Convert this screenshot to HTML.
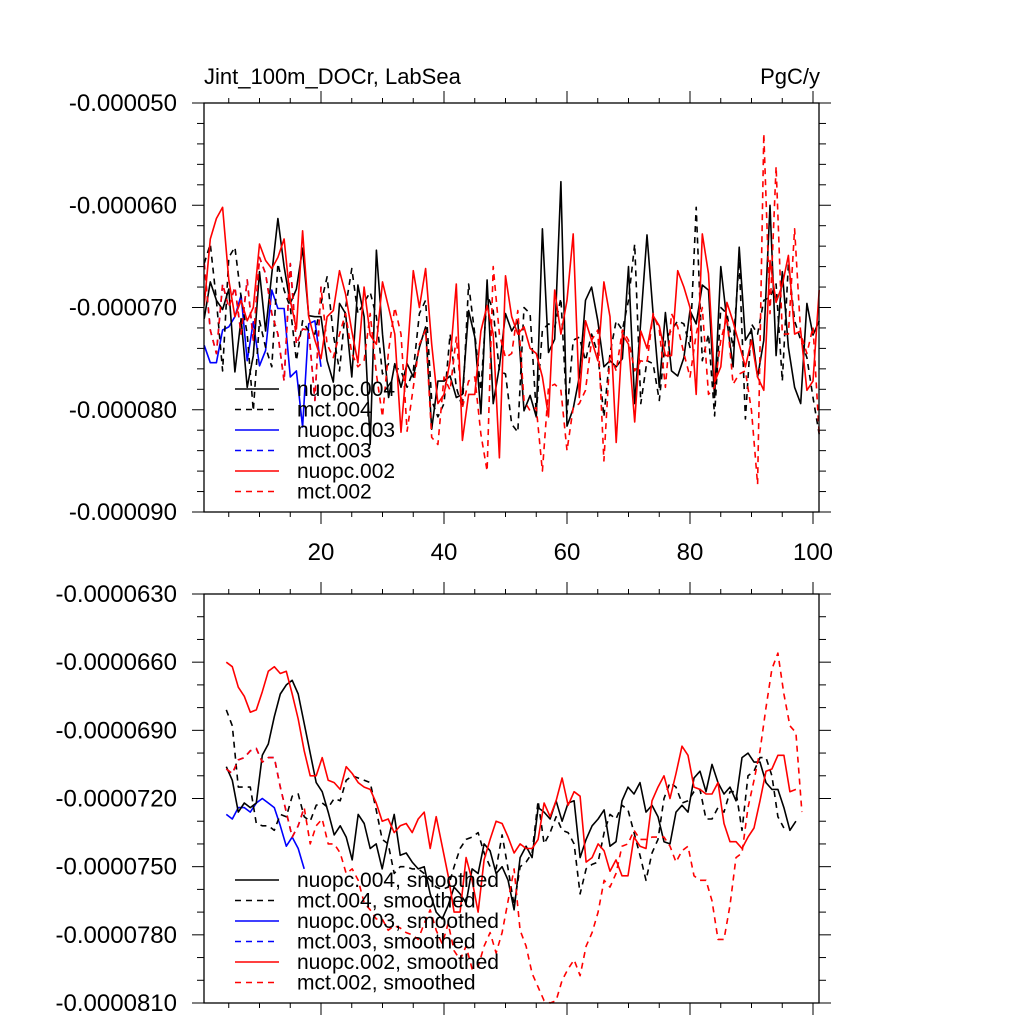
<!DOCTYPE html>
<html><head><meta charset="utf-8"><style>
html,body{margin:0;padding:0;background:#fff;}
svg{display:block;font-family:"Liberation Sans",sans-serif;}
</style></head><body>
<svg id="chart" width="1024" height="1024" viewBox="0 0 1024 1024" xmlns="http://www.w3.org/2000/svg">
<rect x="0" y="0" width="1024" height="1024" fill="#fff"/>
<text x="204" y="84" font-size="22">Jint_100m_DOCr, LabSea</text>
<text x="820" y="84" font-size="22" text-anchor="end">PgC/y</text>
<g id="top"></g><g id="bot"></g>
</svg>
<script>
// values in units of 1e-6 PgC/y
const topN004=[-71.1,-67.5,-69.3,-70.2,-68.2,-76.3,-71.1,-77.8,-74.7,-66.5,-72.3,-66.7,-61.3,-66.0,-69.6,-68.2,-64.2,-70.8,-70.9,-70.9,-75.2,-77.3,-69.6,-70.6,-76.8,-67.8,-70.9,-83.4,-64.4,-72.6,-78.8,-75.5,-77.8,-75.5,-76.8,-73.9,-71.9,-81.9,-77.2,-77.2,-76.7,-78.8,-78.5,-70.3,-72.9,-80.4,-67.3,-79.4,-75.8,-70.6,-72.3,
-71.3,-80.1,-78.6,-80.7,-62.3,-74.4,-73.1,-57.7,-81.6,-79.9,-76.8,-69.3,-68.0,-71.3,-75.8,-75.2,-75.8,-75.0,-66.0,-79.4,-71.3,-62.9,-70.6,-77.8,-70.5,-76.2,-76.7,-74.9,-70.3,-71.6,-67.8,-68.3,-78.8,-66.0,-71.3,-75.8,-64.1,-73.2,-72.2,-76.8,-73.2,-60.0,-74.7,-66.5,-73.9,-77.8,-79.4,-69.6,-72.7,-71.3];
const topM004=[-65.7,-63.8,-69.3,-76.2,-65.1,-64.1,-69.0,-72.6,-80.1,-71.3,-73.9,-75.8,-65.7,-68.3,-70.0,-75.2,-71.3,-72.3,-72.6,-69.6,-67.0,-72.6,-76.2,-70.0,-66.2,-70.6,-69.5,-68.5,-70.9,-76.5,-75.5,-75.8,-76.2,-77.8,-76.2,-70.6,-69.3,-79.1,-80.7,-79.4,-72.6,-77.8,-79.8,-67.7,-72.6,-78.1,-68.7,-70.3,-76.2,-76.5,-81.4,
-82.2,-70.0,-70.6,-80.4,-72.2,-71.6,-71.9,-69.1,-80.4,-73.2,-72.9,-75.2,-72.6,-74.5,-80.7,-74.5,-71.3,-72.2,-69.3,-63.8,-79.4,-75.2,-75.5,-79.1,-73.2,-72.2,-71.3,-71.6,-73.9,-60.2,-75.2,-72.6,-80.6,-70.0,-70.6,-73.9,-65.4,-80.9,-71.6,-72.6,-69.3,-69.0,-67.7,-77.2,-65.7,-71.3,-73.2,-74.9,-78.8,-82.4];
const topN003=[-73.7,-75.4,-75.4,-72.2,-71.9,-70.9,-68.8,-75.2,-71.4,-75.7,-74.2,-68.3,-70.1,-70.1,-76.8,-76.2,-81.7,-71.6,-71.3,-75.8];
const topM003=[-65.7,-72.2,-74.5,-67.7,-70.0,-68.0,-72.6,-67.3,-73.2,-65.1,-66.7,-70.6,-72.6,-77.2,-65.7,-73.6,-72.1,-72.2,-79.1,-68.0];
const topN002=[-69.8,-63.3,-61.3,-60.2,-67.3,-70.9,-69.3,-71.3,-70.0,-63.8,-65.4,-66.2,-65.1,-63.3,-69.3,-72.1,-62.5,-70.9,-73.2,-75.0,-70.9,-70.3,-66.4,-68.7,-72.3,-75.4,-68.0,-72.7,-73.6,-67.5,-70.0,-72.6,-82.2,-75.0,-66.4,-70.0,-66.2,-73.6,-79.4,-78.5,-75.2,-67.7,-83.0,-78.5,-78.5,-72.3,-69.8,-72.6,-84.7,-66.9,-70.9,
-72.6,-71.9,-74.0,-74.5,-76.8,-80.7,-68.3,-72.6,-69.3,-62.8,-78.8,-71.3,-73.2,-75.2,-67.5,-70.9,-83.2,-72.6,-73.6,-81.2,-72.3,-74.0,-70.8,-71.8,-74.7,-74.7,-66.4,-68.0,-70.0,-78.5,-62.8,-66.7,-77.3,-75.8,-69.5,-71.4,-73.6,-75.8,-73.2,-76.8,-78.1,-65.4,-69.5,-67.8,-64.9,-72.6,-72.3,-78.1,-77.2,-68.3];
const topM002=[-65.7,-72.2,-74.5,-67.7,-70.0,-68.0,-72.6,-67.3,-73.2,-65.1,-66.7,-70.6,-72.6,-77.2,-65.7,-73.6,-72.1,-72.2,-79.1,-68.0,-73.6,-74.9,-72.6,-70.6,-74.5,-75.8,-75.2,-70.6,-76.5,-80.7,-74.2,-70.0,-72.6,-82.1,-77.8,-73.6,-72.2,-82.7,-83.4,-76.8,-78.1,-72.9,-79.8,-77.2,-76.8,-82.4,-86.0,-66.0,-72.6,-74.9,-74.5,
-70.3,-79.1,-80.1,-79.8,-86.0,-77.8,-77.5,-78.1,-84.0,-79.8,-79.4,-78.1,-73.2,-72.2,-85.0,-74.5,-76.2,-72.2,-73.2,-76.2,-75.2,-75.4,-70.6,-72.2,-77.8,-70.6,-71.9,-74.5,-76.8,-72.6,-70.0,-78.5,-77.8,-73.2,-70.9,-77.5,-76.5,-76.2,-80.1,-87.3,-53.0,-70.6,-56.2,-72.6,-72.6,-62.3,-72.6,-74.5,-71.9,-82.4];
const botN004=[-70.6,-71.2,-72.6,-72.2,-72.4,-72.2,-70.1,-69.6,-68.4,-67.4,-67.0,-66.8,-67.4,-68.7,-70.0,-71.3,-71.7,-72.6,-73.6,-73.2,-73.7,-74.7,-72.7,-73.1,-74.2,-74.0,-75.1,-73.8,-72.7,-74.5,-74.4,-74.8,-75.1,-75.0,-76.2,-77.0,-77.3,-76.7,-75.9,-76.2,-76.6,-75.1,-75.3,-74.0,-74.3,-75.3,-75.0,-75.6,-76.9,-74.6,-74.1,-74.6,-72.4,-72.6,-72.9,-72.1,-73.0,-72.2,-72.1,-74.6,-73.8,-73.2,-72.9,-72.5,-74.1,-73.9,-72.1,-71.5,-71.8,-71.3,-72.6,-72.3,-72.8,-73.9,-74.0,-72.6,-72.3,-72.6,-71.1,-70.8,-71.7,-70.5,-71.3,-71.8,-71.5,-72.1,-70.2,-70.0,-70.4,-70.4,-71.3,-71.6,-71.6,-72.4,-73.4,-73.0];
const botM004=[-68.1,-68.8,-71.5,-71.5,-71.5,-73.1,-73.2,-73.2,-73.4,-72.7,-72.8,-71.9,-71.8,-72.8,-73.0,-72.3,-72.2,-72.4,-72.0,-72.1,-71.2,-71.0,-71.1,-71.2,-71.3,-72.5,-73.8,-74.0,-75.3,-75.0,-75.0,-75.1,-75.1,-75.3,-75.6,-75.9,-76.0,-75.9,-75.0,-74.2,-73.8,-73.7,-73.5,-74.4,-75.0,-75.1,-73.6,-75.1,-76.7,-75.0,-74.8,-74.4,-72.1,-74.0,-73.5,-72.8,-73.4,-73.5,-74.0,-76.2,-75.1,-74.9,-74.8,-73.5,-72.7,-72.9,-72.3,-72.5,-73.5,-74.5,-75.6,-74.4,-73.8,-72.0,-71.3,-71.5,-72.2,-72.1,-71.7,-71.6,-72.9,-72.9,-72.4,-72.6,-71.7,-71.7,-73.4,-71.0,-70.8,-70.2,-70.2,-71.0,-72.8,-73.3];
const botN003=[-72.7,-72.9,-72.4,-72.4,-72.6,-72.2,-72.0,-72.2,-72.4,-73.2,-74.1,-73.7,-74.2,-75.1];
const botM003=[-70.7,-70.9,-70.3,-70.2,-69.9,-69.8,-70.4,-70.2,-70.2,-71.5,-72.6,-73.7,-73.2,-72.4];
const botN002=[-66.0,-66.2,-67.1,-67.5,-68.2,-68.1,-67.3,-66.4,-66.2,-66.5,-66.4,-67.4,-68.5,-69.9,-71.0,-71.0,-70.2,-71.2,-71.3,-71.6,-70.6,-70.9,-71.3,-71.5,-71.6,-72.2,-73.0,-72.9,-73.5,-73.2,-73.1,-73.5,-72.9,-72.6,-74.2,-72.8,-74.1,-75.4,-77.0,-77.0,-74.6,-75.6,-77.0,-74.7,-73.8,-73.0,-73.1,-73.7,-74.4,-74.0,-74.2,-74.2,-73.8,-72.2,-72.8,-72.1,-71.1,-72.3,-71.7,-71.9,-74.8,-74.6,-74.0,-74.3,-75.2,-74.7,-75.4,-75.4,-73.7,-74.1,-74.2,-72.1,-71.5,-71.0,-72.0,-70.9,-69.7,-70.1,-71.5,-71.6,-71.8,-71.8,-71.3,-73.1,-73.9,-73.9,-74.2,-73.7,-73.3,-72.1,-70.8,-70.7,-70.1,-70.1,-71.7,-71.6];
const botM002=[-70.7,-70.9,-70.3,-70.2,-69.9,-69.8,-70.4,-70.2,-70.2,-71.5,-72.6,-73.7,-73.2,-72.4,-74.0,-73.2,-72.9,-74.0,-74.0,-74.4,-75.3,-75.1,-75.6,-76.6,-76.9,-77.3,-77.3,-77.8,-77.6,-77.7,-77.9,-78.0,-78.2,-77.5,-76.9,-77.8,-78.4,-77.5,-78.7,-79.1,-78.5,-79.5,-79.4,-78.5,-77.9,-78.8,-77.9,-76.5,-75.1,-77.8,-78.5,-79.7,-80.3,-80.9,-81.0,-80.9,-80.0,-79.5,-79.1,-79.8,-78.5,-77.9,-77.0,-75.6,-75.9,-75.3,-74.1,-74.0,-73.4,-73.8,-73.8,-73.7,-73.7,-73.7,-74.1,-74.8,-74.3,-74.1,-75.4,-75.6,-75.6,-76.5,-78.2,-78.2,-76.7,-74.6,-74.4,-72.4,-71.2,-69.9,-68.0,-66.3,-65.6,-67.4,-68.8,-69.1,-72.6];
const topStartYear=1, topYearStep=1;
const botStartYear=4.6, botYearStep=0.975;
const xTickLabels=["20","40","60","80","100"];
const topYTickLabels=["-0.000050","-0.000060","-0.000070","-0.000080","-0.000090"];
const botYTickLabels=["-0.0000630","-0.0000660","-0.0000690","-0.0000720","-0.0000750","-0.0000780","-0.0000810"];
const topLegend=["nuopc.004","mct.004","nuopc.003","mct.003","nuopc.002","mct.002"];
const botLegend=["nuopc.004, smoothed","mct.004, smoothed","nuopc.003, smoothed","mct.003, smoothed","nuopc.002, smoothed","mct.002, smoothed"];

const NS="http://www.w3.org/2000/svg";
const L=204,R=819;
function xs(yr){return 198+6.15*yr;}
function mk(tag,attrs,parent){const e=document.createElementNS(NS,tag);for(const k in attrs)e.setAttribute(k,attrs[k]);parent.appendChild(e);return e;}
const styles=[{c:"#000",d:null},{c:"#000",d:"6 5"},{c:"#0000ff",d:null},{c:"#0000ff",d:"6 5"},{c:"#ff0000",d:null},{c:"#ff0000",d:"6 5"}];
const names=["nuopc-004","mct-004","nuopc-003","mct-003","nuopc-002","mct-002"];

function panel(g,prefix,T,B,ymax,ymin,majorStep,minorStep,yLabels,series,start,step,legend,legY0,showXLabels){
  const ys=v=>T+(ymax-v)/(ymax-ymin)*(B-T);
  const order=[3,2,1,0,5,4];
  order.forEach(i=>{
    const arr=series[i];
    const pts=arr.map((v,k)=>xs(start+k*step).toFixed(1)+","+ys(v).toFixed(1)).join(" ");
    const pl=mk("polyline",{points:pts,fill:"none",stroke:styles[i].c,"stroke-width":"1.6","stroke-linejoin":"round"},g);
    if(styles[i].d)pl.setAttribute("stroke-dasharray",styles[i].d);
    
    
  });
  const fr=mk("rect",{x:L,y:T,width:R-L,height:B-T,fill:"none",stroke:"#000","stroke-width":"1.3"},g);
  
  
  for(let yr=5;yr<=100;yr+=5){
    const x=xs(yr),maj=yr%20===0,len=maj?12:5;
    mk("line",{x1:x,y1:B,x2:x,y2:B+len,stroke:"#000","stroke-width":"1"},g);
    mk("line",{x1:x,y1:T,x2:x,y2:T-len,stroke:"#000","stroke-width":"1"},g);
  }
  if(showXLabels){
    xTickLabels.forEach(lab=>{
      const t=mk("text",{x:xs(+lab),y:B+48,"font-size":"24","text-anchor":"middle"},g);
      t.textContent=lab;
      
      
    });
  }
  const nMinor=Math.round((ymax-ymin)/minorStep);
  for(let k=0;k<=nMinor;k++){
    const v=ymax-k*minorStep,y=ys(v);
    const maj=Math.abs(((ymax-v)/majorStep)-Math.round((ymax-v)/majorStep))<1e-6,len=maj?12:7;
    mk("line",{x1:L,y1:y,x2:L-len,y2:y,stroke:"#000","stroke-width":"1"},g);
    mk("line",{x1:R,y1:y,x2:R+len,y2:y,stroke:"#000","stroke-width":"1"},g);
  }
  yLabels.forEach((lab,k)=>{
    const y=ys(ymax-k*majorStep);
    const t=mk("text",{x:177,y:y+8,"font-size":"24","text-anchor":"end"},g);
    t.textContent=lab;
    
    
  });
  legend.forEach((lab,i)=>{
    const y=legY0+i*20.5;
    const ln=mk("line",{x1:235,y1:y,x2:279,y2:y,stroke:styles[i].c,"stroke-width":"1.6"},g);
    if(styles[i].d)ln.setAttribute("stroke-dasharray",styles[i].d);
    
    
    const t=mk("text",{x:297,y:y+7,"font-size":"21"},g);
    t.textContent=lab;
    
    
  });
}
const gt=document.getElementById("top");


const gb=document.getElementById("bot");


panel(gt,"top",103,512,-50,-90,10,2,topYTickLabels,[topN004,topM004,topN003,topM003,topN002,topM002],topStartYear,topYearStep,topLegend,389,true);
panel(gb,"bottom",594,1003,-63,-81,3,1,botYTickLabels,[botN004,botM004,botN003,botM003,botN002,botM002],botStartYear,botYearStep,botLegend,880,false);
</script>
</body></html>
